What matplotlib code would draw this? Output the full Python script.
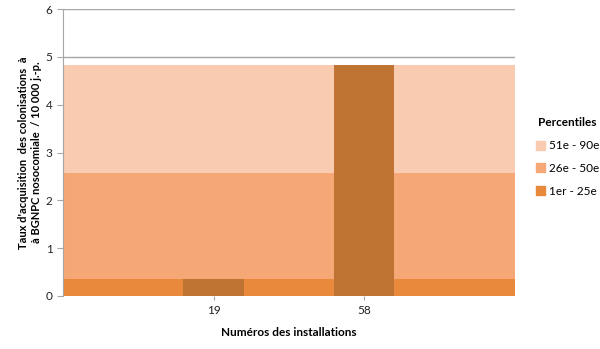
import matplotlib.pyplot as plt
from matplotlib.patches import Patch

# category axis: empty slots on each side so the bands span the full width
categories = ["", "19", "58", ""]
band_low = [0.35, 0.35, 0.35, 0.35]      # 1er - 25e
band_mid = [2.57, 2.57, 2.57, 2.57]      # 26e - 50e
band_high = [4.82, 4.82, 4.82, 4.82]     # 51e - 90e
bar_labels = ["19", "58"]
bar_values = [0.35, 4.82]

plt.rcParams["font.family"] = ["Lato", "DejaVu Sans"]

fig = plt.figure(figsize=(6.0, 3.49), dpi=100)
ax = fig.add_axes([0.105, 0.152, 0.753, 0.822])

x = list(range(len(categories)))
ax.fill_between(x, 0, band_low, color="#E8893B", linewidth=0, zorder=2)
ax.fill_between(x, band_low, band_mid, color="#F5A876", linewidth=0, zorder=2)
ax.fill_between(x, band_mid, band_high, color="#F9CBB1", linewidth=0, zorder=2)

bar_x = [categories.index(lbl) for lbl in bar_labels]
ax.bar(bar_x, bar_values, width=0.4, color="#C07434", linewidth=0, zorder=3)

ax.set_xlim(0, len(categories) - 1)
ax.set_ylim(0, 6)
ax.set_yticks(range(0, 7))
ax.set_xticks(bar_x)
ax.set_xticklabels(bar_labels)
ax.yaxis.grid(True, color="#A6A6A6", linewidth=1.0, zorder=1)
ax.set_axisbelow(True)

for side in ["top", "right", "bottom"]:
    ax.spines[side].set_visible(False)
ax.spines["left"].set_color("#A6A6A6")
ax.tick_params(axis="both", colors="#A6A6A6", labelcolor="#222222", labelsize=8.5, length=4)
ax.tick_params(axis="x", length=3)

ax.set_xlabel("Numéros des installations", fontsize=8.5, fontweight="bold", labelpad=8)
ax.set_ylabel("Taux d'acquisition  des colonisations  à\nà BGNPC nosocomiale  / 10 000 j.-p.",
              fontsize=8, fontweight="bold", labelpad=3)

handles = [
    Patch(color="#F9CBB1", label="51e - 90e"),
    Patch(color="#F5A876", label="26e - 50e"),
    Patch(color="#E8893B", label="1er - 25e"),
]
leg = fig.legend(handles=handles, title="Percentiles", loc="center left",
                 bbox_to_anchor=(0.875, 0.55), frameon=False, fontsize=8.5,
                 title_fontproperties={"weight": "bold", "size": 8.5},
                 handlelength=0.8, handleheight=0.8, handletextpad=0.3, labelspacing=1.0)

fig.savefig("out.png")
